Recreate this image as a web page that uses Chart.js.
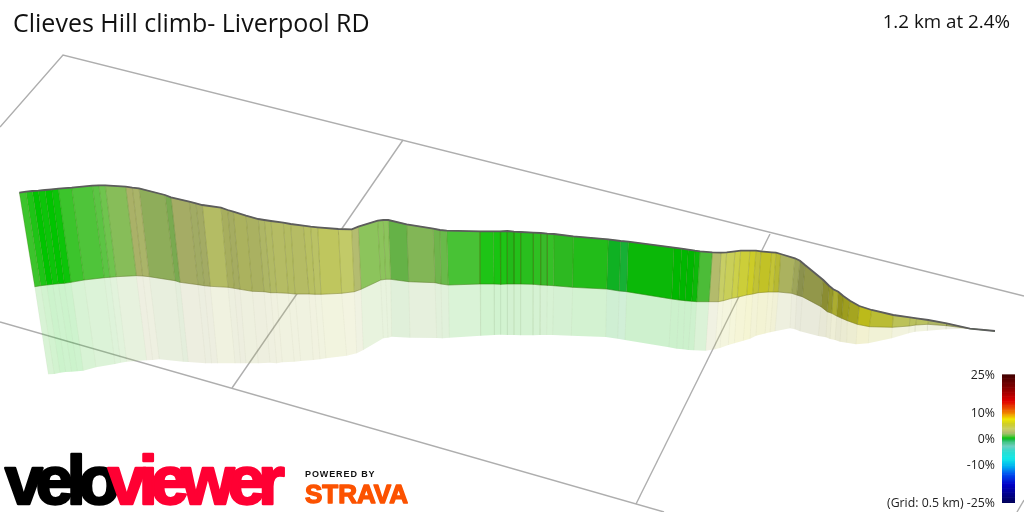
<!DOCTYPE html>
<html>
<head>
<meta charset="utf-8">
<title>Clieves Hill climb</title>
<script src="https://cdn.jsdelivr.net/npm/chart.js@4"></script>
<style>
  html, body { margin: 0; padding: 0; background: #fff; }
  canvas { display: block; }
</style>
</head>
<body>
<canvas id="climbChart" width="1024" height="512"></canvas>
<script>
// --- DATA (in the plane of the x / y scales) ---
const titleText = "Clieves Hill climb- Liverpool RD";
const summaryText = "1.2 km at 2.4%";
const gradeTicks = [25, 10, 0, -10, -25];
const gradeTickLabels = ["25%", "10%", "0%", "-10%", "(Grid: 0.5 km) -25%"];

// top of the wall
const ridgeX = [19.3,26,32.3,38.3,45,51.7,58.3,71.7,92.3,99,105.3,125.7,132.3,139,165,171,189.3,196,202.3,221,227.7,233.3,246,258.3,264.3,271,283.3,290.7,303.3,310.7,317.7,338.3,351.7,358.3,377.7,383.3,388.3,406.7,433.3,440,446.7,480,493.3,500,507.3,514,520.7,533.3,540.7,547.3,554,573.3,608.3,620.7,628.3,674,681.7,688.3,695,700,712.3,721,726.7,735,740.7,750,756,761,771.7,776,780.7,795,800,805,823.3,829.3,833.3,838.3,843.3,850,859.3,871.7,893.3,910,916.7,928.3,946.7,970,995];
const ridgeY = [192.7,191.7,191,190.7,190,189.3,188.7,187.7,185.7,185.3,185.3,186.7,187.7,188.3,195,197.3,201.7,203.3,205,207.7,210,211.7,215.7,219,220,221,222.7,224,225.7,226.7,227.3,229,229.3,226.7,220.7,220,220,224.3,228.7,230,230.7,231.3,231.3,231.3,231,231.7,232,232.7,233,233.7,234,236.3,239.3,241,241.7,247.7,248.7,249.7,250.7,251.3,252.3,252.7,252.3,251.3,250.7,250.7,250.7,251.3,252.3,252.7,254,258.3,260.7,265,280,286,289.3,291.7,296,300.7,306,310,315,317.3,318.3,320,323.3,328.7,331];
// foot of the wall
const footX = [34.7,40.7,46.7,52.7,58.3,64.3,71,84,104.3,110,116.3,136.3,142.7,149.3,175,180,198,204.3,210.3,228,234.3,240,252.3,264,270.7,276.7,288.3,295,309,315,321,341.7,354.3,361,380.7,385.7,390.7,408.7,435,441,448.3,480,494,500.7,507.3,514,520.7,533.3,540.7,547.3,553.7,572.7,606.7,619.3,626.7,671.7,679,685,691.7,696.7,709,718.3,723.3,731.7,737.3,746.7,752.7,758.3,768.3,773.3,778.3,791.7,796.7,802.3,821,827.3,831.7,836.7,841.7,847.3,857.3,869.3,892.3,909.3,915.7,927.7,946.7,970,995];
const footY = [286.7,285.7,285,284.3,283.7,283.3,282.3,280,277.7,277.3,276.7,275.7,276,276.7,280.7,282.3,284.7,285.7,286.3,287.3,288.3,289.3,291.3,291.7,292.7,292.7,293.3,294,294,294.3,294.3,293.3,291.7,289.3,280,279.3,279.3,281.7,282.7,284,285,284,284,284.3,284,284,284,284.3,285,285.3,285.7,287.3,289,291,291.7,299,300,300.7,301.3,301.7,301.7,301.7,300.7,298.3,297.3,295,294,292.7,292,292,292,293.3,295,296.7,306.7,311.7,313.3,316,318.3,320.7,324.3,326.7,327.3,326,325,324.3,325.7,328.7,331];
// far edge of the pale reflection
const reflectX = [48.3,54.3,60,65.7,71.7,77.3,83.3,96,115,120.7,126.7,146.7,152.7,159.3,183.3,188.3,205.7,211.7,217.7,235,240.7,246,258.3,270,276.7,282.3,294.3,300.7,313.3,320,326,346.7,356.7,363.3,383.3,388,391.7,410,436.7,442.3,449.3,480.7,494.3,500.7,507.3,514,520.7,533,540,546.7,552.7,571.3,605.7,617.7,625,669,676.7,683,688.3,694,705.7,715,720,728.3,734.3,743.3,750,756,765,770,775,790,795,800,818.3,826,830,835,840,846.7,856,868.3,891.7,908.7,915,927.3,946,970,995];
const reflectY = [374.3,374,372.7,372,371.7,371.3,370.7,367.3,364,362.7,361.7,360.3,360,359.3,361.7,362,363.3,363.3,363.3,363.3,363.3,363.3,363.3,362.7,363.3,362.3,361.7,361,360,359.3,358.3,355.7,353.3,350,338.3,337.7,336.7,337.7,338,338.3,337.7,335.7,335,334.7,335,335,335.3,335.3,335,335,335,335.7,337,338.7,340,347.3,348.7,349.3,350,350.3,350.7,349.3,348,345,343.3,340.7,338.7,335.7,333.5,332.3,331.2,328.3,329.3,331.3,336,337.3,339,340,341.7,342.7,344.3,343.3,338.3,333.3,331.7,330.7,329.3,328.7,331];
// gradient % of each strip between two neighbouring points above
const stripGrade = [0.5,0.25,0,0.1,0,0.1,0.5,0.8,1,1.2,1.5,2.6,2.4,1.8,1.5,2.6,2.4,2.6,3.2,3.1,2.8,3.2,3,2.9,3.1,3.2,3.3,3.2,3.4,3.3,3.7,3.4,2.5,1.5,1.5,1.5,1.2,1.5,1.3,1.2,0.7,0.25,0.2,0.25,0.3,0.3,0.35,0.4,0.5,0.45,0.4,0.3,-0.2,-0.3,0.1,0,0,0,0.1,0.8,2.7,3.6,4,4.5,5,5.5,5,5.5,5,5,3.2,3,3.2,3.6,4.5,5,5,5.5,5.5,5.5,6,5,3.8,3.6,3.6,3,2.5,0.5];

// grid lines lying on the ground
const gridLinesX = [[0,63,1024],[403,232],[770,636],[0,664],[1024,1017]];
const gridLinesY = [[127,55,296],[140,388],[234,504],[322,512],[500,512]];

// colour ramp of the key: grade %, colour
const rampGrades = [-25,-18,-14,-11,-8,-5,-3,-1,-0.3,0,0.5,1,1.5,2,2.5,3.5,4.5,5.5,7.5,10,14.5,20,25];
const rampColors = ["#00005a","#0000c8","#0050f0","#00b0f0","#10e8e8","#30dcd0","#70cfc0","#30c070","#18b838","#00c400","#3cc42c","#5cc444","#8cc45c","#a8bc68","#b4bc70","#c6ce68","#ccd04a","#cccc28","#f0e800","#f08000","#e00000","#800000","#400000"];

// --- HELPERS ---
function hexToRgb(hex) {
  return [1, 3, 5].map(i => parseInt(hex.substr(i, 2), 16));
}

function rampColor(grade) {
  let i = 0;
  while (i < rampGrades.length - 2 && grade > rampGrades[i + 1]) i++;
  const t = Math.min(1, Math.max(0, (grade - rampGrades[i]) / (rampGrades[i + 1] - rampGrades[i])));
  const a = hexToRgb(rampColors[i]);
  const b = hexToRgb(rampColors[i + 1]);
  return a.map((v, k) => v + (b[k] - v) * t);
}

function rgba(c, alpha) {
  return `rgba(${Math.round(c[0])},${Math.round(c[1])},${Math.round(c[2])},${alpha})`;
}

function pts(xs, ys) {
  return xs.map((x, i) => ({ x: x, y: ys[i] }));
}

// strips that run downhill on the picture sit in shadow
function slopeShade(slope) {
  if (slope <= 0) return 1;
  return 1 - 0.5 * Math.min(slope, 0.1) - 0.3 * Math.max(0, slope - 0.1);
}

// --- DATASETS --- (higher order is painted first)
const datasets = [];

gridLinesX.forEach((xs, i) => {
  datasets.push({ data: pts(xs, gridLinesY[i]), borderColor: "#aeaeae", borderWidth: 1.4, order: 50 });
});

stripGrade.forEach((grade, i) => {
  const slope = (ridgeY[i + 1] - ridgeY[i]) / (ridgeX[i + 1] - ridgeX[i]);
  const c = rampColor(grade).map(v => v * slopeShade(slope));
  // pale reflection
  datasets.push({
    data: [
      { x: footX[i], y: footY[i] }, { x: footX[i + 1], y: footY[i + 1] },
      { x: reflectX[i + 1], y: reflectY[i + 1] }, { x: reflectX[i], y: reflectY[i] }
    ],
    backgroundColor: rgba(c, 0.2), fill: "shape", borderWidth: 0, order: 40
  });
  // wall
  datasets.push({
    data: [
      { x: ridgeX[i], y: ridgeY[i] }, { x: ridgeX[i + 1], y: ridgeY[i + 1] },
      { x: footX[i + 1], y: footY[i + 1] }, { x: footX[i], y: footY[i] }
    ],
    backgroundColor: rgba(c, 1), fill: "shape", borderWidth: 0.4, borderColor: rgba(c, 1), order: 30
  });
});

ridgeX.forEach((x, i) => {
  datasets.push({ data: [{ x: x, y: ridgeY[i] }, { x: footX[i], y: footY[i] }], borderColor: "rgba(70,80,0,0.2)", borderWidth: 1, order: 20 });
  datasets.push({ data: [{ x: footX[i], y: footY[i] }, { x: reflectX[i], y: reflectY[i] }], borderColor: "rgba(60,60,0,0.035)", borderWidth: 1, order: 20 });
});

datasets.push({ data: pts(footX, footY), borderColor: "rgba(60,60,0,0.25)", borderWidth: 1, order: 10 });
datasets.push({ data: pts(ridgeX, ridgeY), borderColor: "#5c5c5c", borderWidth: 1.8, order: 5 });

// colour key, drawn on its own grade scale
for (let g = -25; g < 25; g += 0.5) {
  datasets.push({
    yAxisID: "gradeScale",
    data: [{ x: 1002, y: g }, { x: 1015, y: g }, { x: 1015, y: g + 0.75 }, { x: 1002, y: g + 0.75 }],
    backgroundColor: rgba(rampColor(g + 0.25), 1), fill: "shape", borderWidth: 0, order: 1
  });
}

// --- TEXT AND LOGOS ---
const textPlugin = {
  id: "textPlugin",
  afterDraw(chart) {
    const ctx = chart.ctx;
    const gradeScale = chart.scales.gradeScale;
    ctx.save();
    ctx.textBaseline = "alphabetic";
    ctx.fillStyle = "#111";
    ctx.textAlign = "left";
    ctx.font = "25px 'Open Sans'";
    ctx.fillText(titleText, 13, 32);
    ctx.textAlign = "right";
    ctx.font = "18.8px 'Open Sans'";
    ctx.fillText(summaryText, 1010, 28);
    ctx.font = "12.3px 'Open Sans'";
    ctx.fillStyle = "#222";
    gradeTicks.forEach((v, i) => {
      ctx.fillText(gradeTickLabels[i], 995, gradeScale.getPixelForValue(v) + 4);
    });

    // veloviewer word mark
    ctx.textAlign = "left";
    ctx.letterSpacing = "-7px";
    ctx.font = "900 68px 'Liberation Sans'";
    ctx.lineJoin = "round";
    ctx.lineWidth = 2.5;
    ctx.fillStyle = ctx.strokeStyle = "#000";
    ctx.fillText("velo", 5, 504);
    ctx.strokeText("velo", 5, 504);
    ctx.fillStyle = ctx.strokeStyle = "#ff0033";
    ctx.fillText("viewer", 108, 504);
    ctx.strokeText("viewer", 108, 504);

    ctx.letterSpacing = "0.9px";
    ctx.fillStyle = "#111";
    ctx.font = "bold 9px 'Liberation Sans'";
    ctx.fillText("POWERED BY", 305, 477);
    ctx.letterSpacing = "0px";
    ctx.font = "900 26px 'Liberation Sans'";
    ctx.lineWidth = 1.4;
    ctx.fillStyle = ctx.strokeStyle = "#fc5200";
    ctx.fillText("STRAVA", 305, 503);
    ctx.strokeText("STRAVA", 305, 503);
    ctx.restore();
  }
};

// --- CHART ---
new Chart(document.getElementById("climbChart").getContext("2d"), {
  type: "scatter",
  data: { datasets: datasets },
  options: {
    responsive: false,
    animation: false,
    layout: { padding: 0 },
    datasets: { scatter: { showLine: true, pointRadius: 0, tension: 0 } },
    plugins: { legend: { display: false }, tooltip: { enabled: false } },
    scales: {
      x: { type: "linear", min: 0, max: 1024, display: false },
      y: { type: "linear", min: 0, max: 512, reverse: true, display: false },
      gradeScale: { type: "linear", min: -28.52, max: 171.48, display: false }
    }
  },
  plugins: [textPlugin]
});
</script>
</body>
</html>
